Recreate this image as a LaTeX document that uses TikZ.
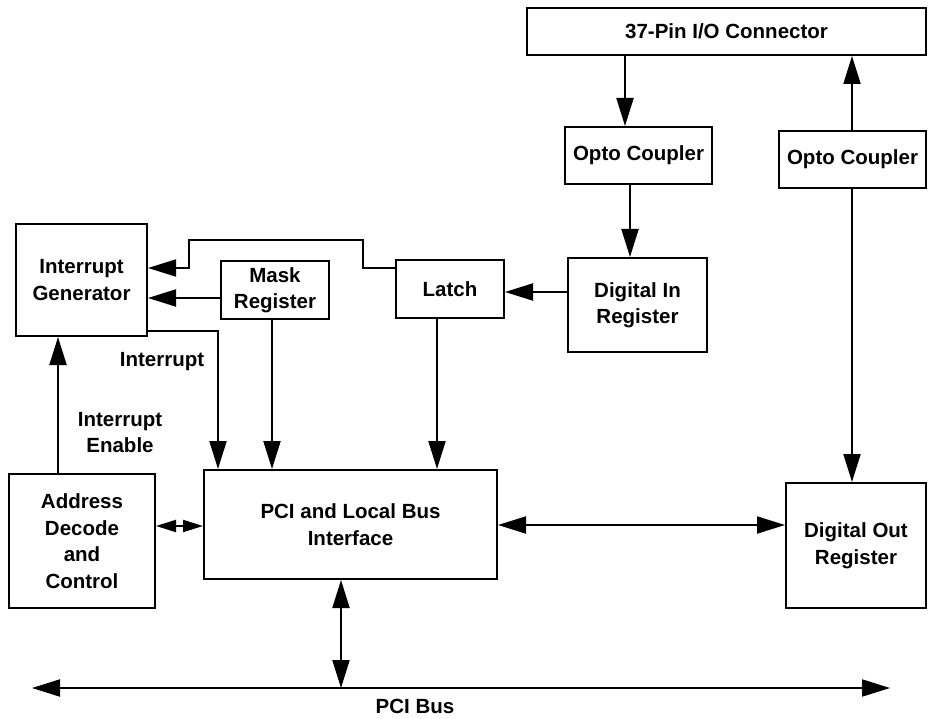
\documentclass[tikz,border=0pt]{standalone}
\usepackage{fontspec}
\setmainfont{Liberation Sans}
\usetikzlibrary{arrows.meta}
\begin{document}
\begin{tikzpicture}[x=1pt,y=-1pt,
  box/.style={draw, line width=2pt, inner sep=0pt, align=center,
    font=\fontsize{20.5}{26.5}\selectfont\bfseries},
  lbl/.style={inner sep=0pt, align=center, font=\fontsize{20.5}{26.5}\selectfont\bfseries},
  arr/.style={line width=2pt, -{Triangle[length=28pt,width=17pt]}},
  arrtwo/.style={line width=2pt, {Triangle[length=28pt,width=17pt]}-{Triangle[length=28pt,width=17pt]}},
  arrsmall/.style={line width=2pt, {Triangle[length=20pt,width=12pt]}-{Triangle[length=20pt,width=12pt]}}]
\useasboundingbox (0,0) rectangle (931,719);
% boxes
\node[box, minimum width=399pt, minimum height=47pt] (conn) at (726.5,31.5) {37-Pin I/O Connector};
\node[box, minimum width=147pt, minimum height=57pt] (optoL) at (638.5,155.5) {Opto Coupler};
\node[box, minimum width=147pt, minimum height=57pt] (optoR) at (852.5,159.5) {Opto Coupler};
\node[box, minimum width=131pt, minimum height=112pt] (IG) at (81.5,280) {Interrupt\\Generator};
\node[box, minimum width=108pt, minimum height=58pt] (Mask) at (275,290) {Mask\\Register};
\node[box, minimum width=108pt, minimum height=58pt] (Latch) at (450,289) {Latch};
\node[box, minimum width=139pt, minimum height=94pt] (DigIn) at (637.5,305) {Digital In\\Register};
\node[box, minimum width=293pt, minimum height=109pt] (PCI) at (350.5,524.5) {PCI and Local Bus\\Interface};
\node[box, minimum width=146pt, minimum height=134pt] (Addr) at (82,541) {Address\\Decode\\and\\Control};
\node[box, minimum width=140pt, minimum height=125pt] (DigOut) at (856,545.5) {Digital Out\\Register};
% helper coordinates
\coordinate (x625) at (625,0);
\coordinate (x630) at (630,0);
\coordinate (x852) at (852,0);
\coordinate (x218) at (218,0);
\coordinate (x272) at (272,0);
\coordinate (x437) at (437,0);
\coordinate (x58) at (58,0);
\coordinate (x341) at (341,0);
\coordinate (y292) at (0,292);
\coordinate (y268) at (0,268);
\coordinate (y298) at (0,298);
\coordinate (y526) at (0,526);
\coordinate (y525) at (0,525);
\coordinate (j1) at (363,240);
\coordinate (j2) at (189,240);
\coordinate (busL) at (32,688);
\coordinate (busR) at (890,688);
% connectors
\draw[arr] (conn.south -| x625) -- (optoL.north -| x625);
\draw[arr] (optoL.south -| x630) -- (DigIn.north -| x630);
\draw[arr] (optoR.north -| x852) -- (conn.south -| x852);
\draw[arr] (optoR.south -| x852) -- (DigOut.north -| x852);
\draw[arr] (DigIn.west |- y292) -- (Latch.east |- y292);
\draw[arr] (Latch.west |- y268) -| (j1) -- (j2) |- (IG.east |- y268);
\draw[arr] (Mask.west |- y298) -- (IG.east |- y298);
\draw[arr] ([yshift=6pt]IG.south east) -| (PCI.north -| x218);
\draw[arr] (Mask.south -| x272) -- (PCI.north -| x272);
\draw[arr] (Latch.south -| x437) -- (PCI.north -| x437);
\draw[arr] (Addr.north -| x58) -- (IG.south -| x58);
\draw[arrsmall] (Addr.east |- y526) -- (PCI.west |- y526);
\draw[arrtwo] (PCI.east |- y525) -- (DigOut.west |- y525);
\draw[arrtwo] (PCI.south -| x341) -- (x341 |- busL);
\draw[arrtwo] (busL) -- (busR);
% labels
\node[lbl] (lblInt) at (162,362) {Interrupt};
\node[lbl] (lblEn) at (120,432.5) {Interrupt\\Enable};
\node[lbl] (lblBus) at (415,706) {PCI Bus};
\end{tikzpicture}
\end{document}
